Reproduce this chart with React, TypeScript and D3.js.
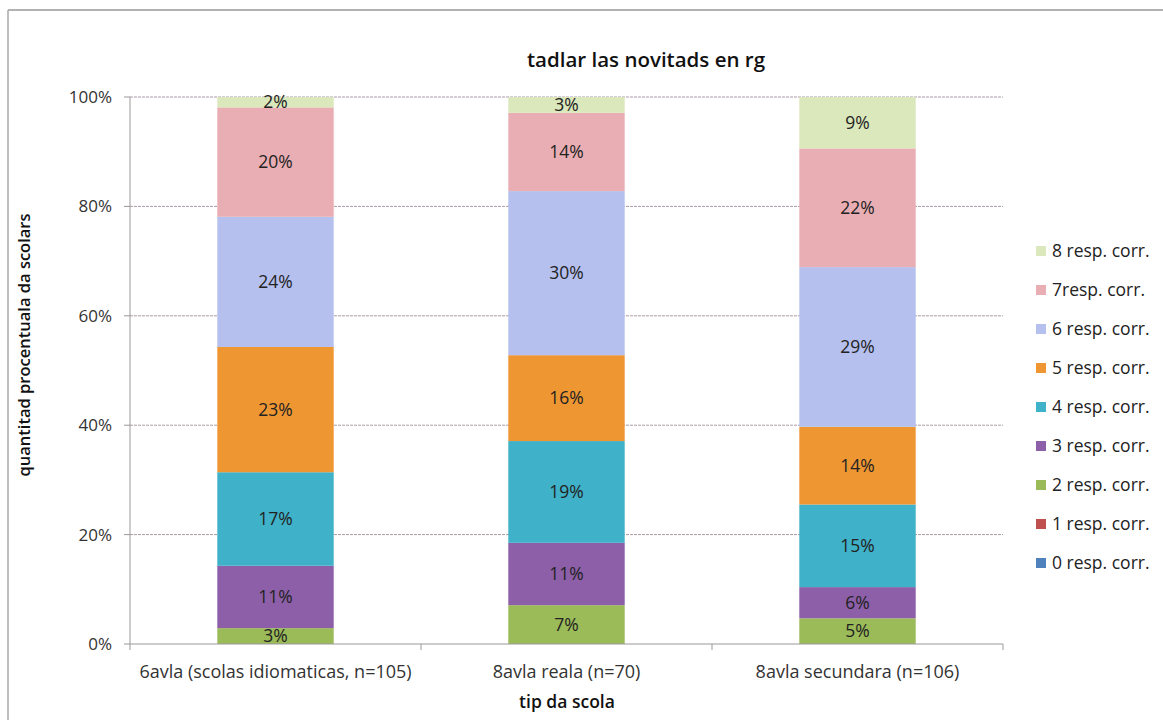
import React from 'react';
import * as d3 from 'd3';

// categories (schools) and stacked series, values in percent
const categories = [
  '6avla (scolas idiomaticas, n=105)',
  '8avla reala (n=70)',
  '8avla secundara (n=106)',
];
const seriesNames = [
  '0 resp. corr.',
  '1 resp. corr.',
  '2 resp. corr.',
  '3 resp. corr.',
  '4 resp. corr.',
  '5 resp. corr.',
  '6 resp. corr.',
  '7resp. corr.',
  '8 resp. corr.',
];
const resp0 = [0, 0, 0];
const resp1 = [0, 0, 0];
const resp2 = [2.9, 7.1, 4.7];
const resp3 = [11.4, 11.4, 5.7];
const resp4 = [17.1, 18.6, 15.1];
const resp5 = [22.9, 15.7, 14.2];
const resp6 = [23.8, 30.0, 29.2];
const resp7 = [20.0, 14.3, 21.7];
const resp8 = [1.9, 2.9, 9.4];
const seriesValues = [resp0, resp1, resp2, resp3, resp4, resp5, resp6, resp7, resp8];
const colors = [
  '#4f81bd', '#c0504d', '#9bbb59', '#8c5fa8', '#3fb1c8',
  '#ee9632', '#b5c0ee', '#e9aeb3', '#dbe8bc',
];
const yTicks = [0, 20, 40, 60, 80, 100];

const W = 1163;
const H = 720;
const margin = { left: 130, right: 160, top: 97, bottom: 76 };
const font = '"Open Sans", Lato, sans-serif';

export default function App() {
  const x = d3.scaleBand<string>()
    .domain(categories)
    .range([margin.left, W - margin.right])
    .paddingInner(0.6)
    .paddingOuter(0.3);
  const band = d3.scaleBand<string>().domain(categories).range([margin.left, W - margin.right]);
  const y = d3.scaleLinear().domain([0, 100]).range([H - margin.bottom, margin.top]);

  const table = categories.map((c, i) => {
    const row: Record<string, any> = { cat: c };
    seriesNames.forEach((s, j) => { row[s] = seriesValues[j][i]; });
    return row;
  });
  const stacked = d3.stack<any>().keys(seriesNames)(table);

  const x0 = margin.left;
  const x1 = W - margin.right;
  const yBase = y(0);

  return (
    <svg width={W} height={H} style={{ position: 'absolute', left: 0, top: 0, background: '#fff' }}
      fontFamily={font}>
      {/* outer frame */}
      <line x1={8} x2={W} y1={10} y2={10} stroke="#999" strokeWidth={1.5} />
      <line x1={8} x2={8} y1={10} y2={H} stroke="#aaa" strokeWidth={1.5} />

      <text x={646} y={60} dy="0.35em" textAnchor="middle" fontSize={20.5} fontWeight="600" fill="#111">
        tadlar las novitads en rg
      </text>

      {/* gridlines */}
      {yTicks.filter(t => t > 0).map(t => (
        <line key={t} x1={x0} x2={x1} y1={y(t)} y2={y(t)} stroke="#a99aa6" strokeWidth={1} strokeDasharray="3,1" />
      ))}

      {/* bars */}
      {stacked.map((layer, j) => (
        <g key={layer.key} fill={colors[j]}>
          {layer.map((d, i) => {
            const h = y(d[0]) - y(d[1]);
            if (h <= 0) return null;
            return <rect key={i} x={x(categories[i])} y={y(d[1])} width={x.bandwidth()} height={h} />;
          })}
        </g>
      ))}

      {/* data labels */}
      {stacked.map((layer, j) => (
        <g key={'l' + layer.key}>
          {layer.map((d, i) => {
            const v = d[1] - d[0];
            if (v <= 0) return null;
            return (
              <text key={i} x={x(categories[i])! + x.bandwidth() / 2} y={y((d[0] + d[1]) / 2)}
                dy="0.35em" textAnchor="middle" fontSize={17.5} fill="#222">
                {Math.round(v)}%
              </text>
            );
          })}
        </g>
      ))}

      {/* y axis */}
      <line x1={x0} x2={x0} y1={y(0)} y2={y(100)} stroke="#999" />
      {yTicks.map(t => (
        <g key={'t' + t}>
          <line x1={x0 - 6} x2={x0} y1={y(t)} y2={y(t)} stroke="#999" />
          <text x={x0 - 18} y={y(t)} dy="0.35em" textAnchor="end" fontSize={17} fill="#333">{t}%</text>
        </g>
      ))}

      {/* x axis */}
      <line x1={x0} x2={x1} y1={yBase} y2={yBase} stroke="#999" />
      {[...categories.map(c => band(c)!), x1].map((v, i) => (
        <line key={'xt' + i} x1={v} x2={v} y1={yBase} y2={yBase + 6} stroke="#999" />
      ))}
      {categories.map(c => (
        <text key={c} x={x(c)! + x.bandwidth() / 2} y={672} dy="0.35em" textAnchor="middle" fontSize={18} fill="#333">
          {c}
        </text>
      ))}

      <text x={567} y={702} dy="0.35em" textAnchor="middle" fontSize={17.5} fontWeight="600" fill="#111">tip da scola</text>
      <text transform={`translate(24,345) rotate(-90)`} dy="0.35em" textAnchor="middle"
        fontSize={16.5} fontWeight="600" fill="#111">
        quantitad procentuala da scolars
      </text>

      {/* legend, top entry = last series */}
      {seriesNames.slice().reverse().map((s, k) => {
        const j = seriesNames.length - 1 - k;
        const ly = 251 + k * 39;
        return (
          <g key={'lg' + s}>
            <rect x={1036} y={ly - 5} width={10} height={10} fill={colors[j]} />
            <text x={1052} y={ly} dy="0.35em" fontSize={17.5} fill="#222">{s}</text>
          </g>
        );
      })}
    </svg>
  );
}
